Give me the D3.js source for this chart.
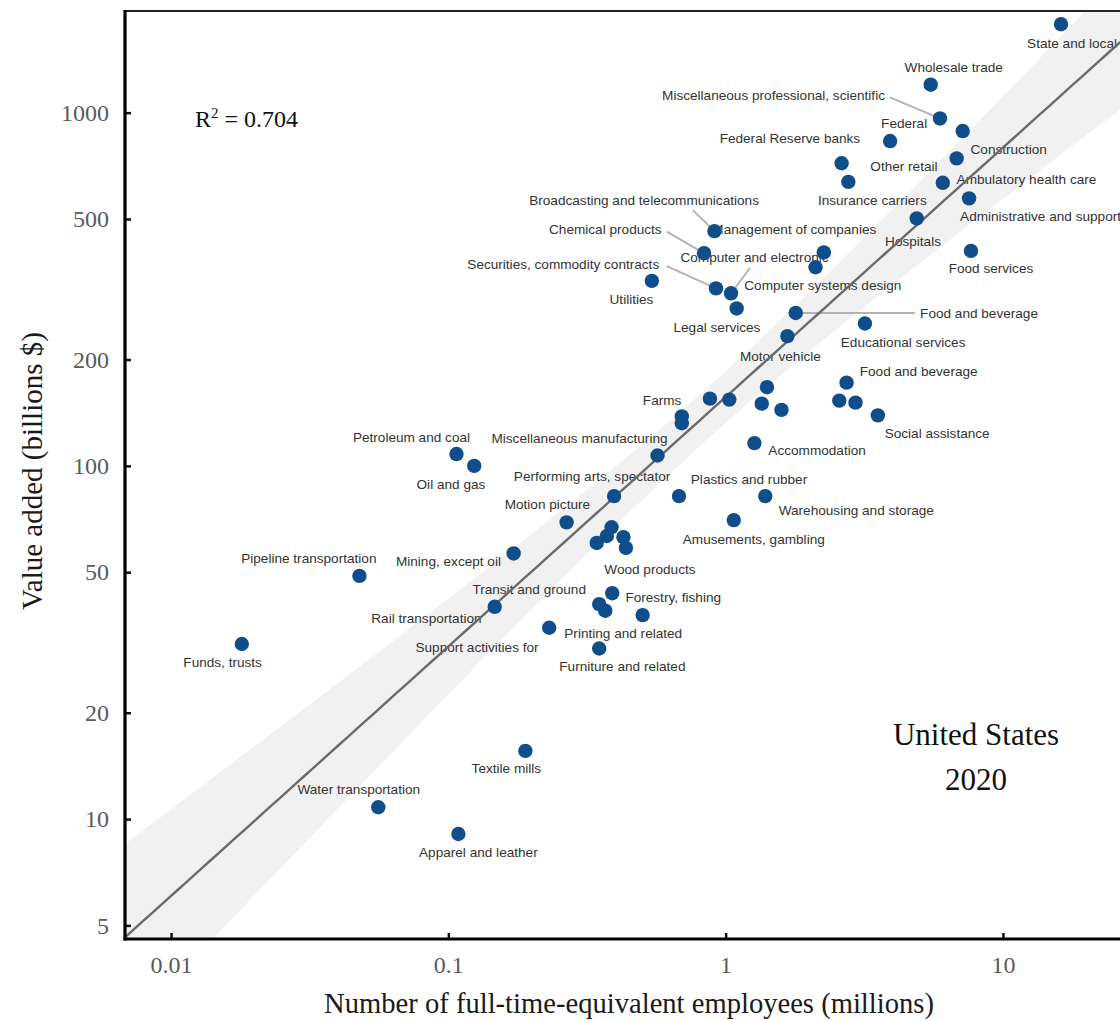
<!DOCTYPE html>
<html>
<head>
<meta charset="utf-8">
<script src="https://cdn.jsdelivr.net/npm/d3@7"></script>
<style>
  html, body { margin: 0; padding: 0; background: #ffffff; }
  svg { display: block; }
</style>
</head>
<body>
<svg id="chart" width="1120" height="1021"></svg>
<script>
// Industries (empty name = point drawn without a label)
const industries = [
  "State and local", "Wholesale trade", "Miscellaneous professional, scientific", "Construction",
  "Federal", "Federal Reserve banks", "Other retail", "Insurance carriers",
  "Ambulatory health care", "Administrative and support", "Hospitals", "Broadcasting and telecommunications",
  "Food services", "Management of companies", "Chemical products", "Computer systems design",
  "Utilities", "Securities, commodity contracts", "Computer and electronic", "Legal services",
  "Food and beverage", "Educational services", "Motor vehicle", "",
  "Food and beverage", "", "", "",
  "", "", "", "Social assistance",
  "Farms", "", "Accommodation", "Miscellaneous manufacturing",
  "Petroleum and coal", "Oil and gas", "Performing arts, spectator", "Plastics and rubber",
  "Warehousing and storage", "Motion picture", "Amusements, gambling", "",
  "", "", "", "Wood products",
  "Mining, except oil", "Pipeline transportation", "Forestry, fishing", "Transit and ground",
  "", "Printing and related", "Rail transportation", "Support activities for",
  "Furniture and related", "Funds, trusts", "Textile mills", "Water transportation",
  "Apparel and leather"
];

// Full-time-equivalent employees (millions)
const employees = [
  16.2, 5.49, 5.93, 7.16,
  3.92, 2.62, 6.81, 2.77,
  6.07, 7.55, 4.89, 0.911,
  7.67, 2.26, 0.836, 2.11,
  0.542, 0.923, 1.046, 1.096,
  1.79, 3.18, 1.67, 1.41,
  2.73, 0.878, 1.031, 1.35,
  1.59, 2.57, 2.94, 3.54,
  0.695, 0.695, 1.27, 0.568,
  0.107, 0.124, 0.396, 0.679,
  1.39, 0.267, 1.07, 0.388,
  0.373, 0.343, 0.428, 0.437,
  0.172, 0.0478, 0.390, 0.350,
  0.368, 0.502, 0.147, 0.231,
  0.350, 0.0180, 0.1896, 0.0559,
  0.1087
];

// Value added (billions $)
const valueAdded = [
  1780, 1200, 963, 887,
  831, 719, 742, 637,
  633, 572, 502, 462,
  406, 402, 400, 365,
  334, 318, 308, 279,
  271, 253, 233, 167,
  172, 155, 154, 150,
  144, 153, 151, 139,
  138, 132, 116, 107,
  108, 100, 82.1, 82.1,
  82.1, 69.2, 70.2, 67.0,
  63.3, 60.5, 62.8, 58.6,
  56.5, 48.8, 43.6, 40.6,
  38.9, 37.8, 39.9, 34.8,
  30.4, 31.3, 15.6, 10.8,
  9.07
];

const xTickValues = [0.01, 0.1, 1, 10];
const xTickLabels = ["0.01", "0.1", "1", "10"];
const yTickValues = [5, 10, 20, 50, 100, 200, 500, 1000];
const yTickLabels = ["5", "10", "20", "50", "100", "200", "500", "1000"];

const rSquared = "0.704";
const panelNote = ["United States", "2020"];
const xTitle = "Number of full-time-equivalent employees (millions)";
const yTitle = "Value added (billions $)";

// Label layout, one entry per industry: [dx, dy, anchor, leaderDx, leaderDy]
// (offsets in px from the point; leader start is also relative to the point)
const labelLayout = [
  [56, 19, "end"], [23, -17, "middle"], [-55, -23, "end", -50, -21], [46, 18.3, "middle"],
  [14, -18, "middle"], [-51.7, -25.3, "middle"], [-52.7, 7.4, "middle"], [24, 18.6, "middle"],
  [83.7, -3.7, "middle"], [-9, 18.4, "start"], [-3.7, 22.4, "middle"], [-70.3, -31, "middle", -21.6, -21],
  [20, 17.6, "middle"], [-29.5, -23.3, "middle"], [-98.7, -24, "middle", -37.3, -21.6], [7.3, 17.7, "middle"],
  [-20.4, 18.3, "middle"], [-152.7, -24.3, "middle", -49.3, -22.3], [23.5, -35.8, "middle", 19, -25.3], [-19.7, 18.4, "middle"],
  [183.3, 0, "middle", 119, 0], [38.2, 18.4, "middle"], [-7, 20, "middle"], null,
  [72.1, -11.6, "middle"], null, null, null,
  null, null, null, [59.3, 17.6, "middle"],
  [-19.7, -16.7, "middle"], null, [62.7, 7.4, "middle"], [-78, -17, "middle"],
  [-45, -17.3, "middle"], [-23.3, 18.3, "middle"], [-22, -20, "middle"], [70, -17, "middle"],
  [91, 14, "middle"], [-19.2, -18, "middle"], [20, 19.3, "middle"], null,
  null, null, null, [24, 21.3, "middle"],
  [-65.2, 7.7, "middle"], [-50.6, -17.4, "middle"], [61, 4, "middle"], [-70, -14.7, "middle"],
  null, [-19.4, 17.7, "middle"], [-68.3, 11, "middle"], [-72.1, 19, "middle"],
  [23.2, 17.4, "middle"], [-19.2, 18.3, "middle"], [-19, 17.6, "middle"], [-19.5, -17.7, "middle"],
  [20, 18.3, "middle"]
];

const points = industries.map((name, i) => ({
  name, emp: employees[i], va: valueAdded[i], layout: labelLayout[i]
}));

// ---- geometry ----
const panel = { left: 125, top: 11, right: 1150, bottom: 939 };

const x = d3.scaleLog().domain([0.006823, 33.92]).range([panel.left, panel.right]);
const y = d3.scaleLog().domain([4.575, 1940]).range([panel.bottom, panel.top]);

const svg = d3.select("#chart");

svg.append("defs").append("clipPath").attr("id", "panel-clip")
  .append("rect")
  .attr("x", panel.left).attr("y", panel.top)
  .attr("width", panel.right - panel.left).attr("height", panel.bottom - panel.top);

const plot = svg.append("g").attr("clip-path", "url(#panel-clip)");

// ---- log-log least-squares fit with 95% confidence band ----
const lx = employees.map(Math.log10);
const ly = valueAdded.map(Math.log10);
const n = lx.length;
const mx = d3.mean(lx), my = d3.mean(ly);
const sxx = d3.sum(lx, v => (v - mx) ** 2);
const sxy = d3.sum(lx.map((v, i) => (v - mx) * (ly[i] - my)));
const slope = sxy / sxx;
const intercept = my - slope * mx;
const sse = d3.sum(lx.map((v, i) => (ly[i] - (intercept + slope * v)) ** 2));
const sResid = Math.sqrt(sse / (n - 2));
const tCrit = 2.0;

const [lxMin, lxMax] = x.domain().map(Math.log10);
const fitRows = d3.range(0, 121).map(k => {
  const v = lxMin + (lxMax - lxMin) * k / 120;
  const fit = intercept + slope * v;
  const half = tCrit * sResid * Math.sqrt(1 / n + (v - mx) ** 2 / sxx);
  return { x: 10 ** v, fit: 10 ** fit, lo: 10 ** (fit - half), hi: 10 ** (fit + half) };
});

plot.append("path")
  .datum(fitRows)
  .attr("fill", "#f1f1f1")
  .attr("d", d3.area().x(d => x(d.x)).y0(d => y(d.lo)).y1(d => y(d.hi)));

// ---- labels and leader segments ----
const labelled = points.filter(p => p.name && p.layout);
const R = 7.2;

const labelG = plot.append("g");
labelled.filter(p => p.layout.length > 3).forEach(p => {
  const px = x(p.emp), py = y(p.va);
  const sx = px + p.layout[3], sy = py + p.layout[4];
  const len = Math.hypot(px - sx, py - sy);
  const ex = px - (px - sx) / len * (R * 0.4), ey = py - (py - sy) / len * (R * 0.4);
  labelG.append("line")
    .attr("x1", sx).attr("y1", sy).attr("x2", ex).attr("y2", ey)
    .attr("stroke", "#b3b3b3").attr("stroke-width", 2);
});

labelG.selectAll("text.lbl")
  .data(labelled)
  .join("text")
  .attr("class", "lbl")
  .attr("x", d => x(d.emp) + d.layout[0])
  .attr("y", d => y(d.va) + d.layout[1])
  .attr("dy", "0.35em")
  .attr("text-anchor", d => d.layout[2])
  .attr("font-family", "'Liberation Sans', Arial, Helvetica, sans-serif")
  .attr("font-size", 13.6)
  .attr("fill", "#333333")
  .text(d => d.name);

// fitted line
plot.append("path")
  .datum(fitRows)
  .attr("fill", "none")
  .attr("stroke", "#6a6a6a")
  .attr("stroke-width", 2.4)
  .attr("d", d3.line().x(d => x(d.x)).y(d => y(d.fit)));

// points
plot.append("g")
  .selectAll("circle")
  .data(points)
  .join("circle")
  .attr("cx", d => x(d.emp))
  .attr("cy", d => y(d.va))
  .attr("r", R)
  .attr("fill", "#104E8B");

// ---- axes ----
const tickFont = "'Liberation Serif', 'Times New Roman', Times, serif";

const yAxis = svg.append("g")
  .attr("transform", `translate(${panel.left},0)`)
  .call(d3.axisLeft(y)
    .tickValues(yTickValues)
    .tickFormat((d, i) => yTickLabels[i])
    .tickSizeInner(-6).tickSizeOuter(0).tickPadding(16));
yAxis.select(".domain").remove();
yAxis.selectAll(".tick line").attr("stroke", "#111").attr("stroke-width", 2.5);
yAxis.selectAll(".tick text")
  .attr("font-family", tickFont).attr("font-size", 24).attr("fill", "#5a5a5a");

const xAxis = svg.append("g")
  .attr("transform", `translate(0,${panel.bottom})`)
  .call(d3.axisBottom(x)
    .tickValues(xTickValues)
    .tickFormat((d, i) => xTickLabels[i])
    .tickSizeInner(-6).tickSizeOuter(0).tickPadding(17));
xAxis.select(".domain").remove();
xAxis.selectAll(".tick line").attr("stroke", "#111").attr("stroke-width", 2.5);
xAxis.selectAll(".tick text")
  .attr("font-family", tickFont).attr("font-size", 24).attr("fill", "#5a5a5a");

// panel frame: heavy left/bottom axes, thin top edge
svg.append("line")
  .attr("x1", panel.left).attr("x2", panel.right)
  .attr("y1", panel.top).attr("y2", panel.top)
  .attr("stroke", "#222").attr("stroke-width", 2);
svg.append("line")
  .attr("x1", panel.left).attr("x2", panel.left)
  .attr("y1", panel.top - 1).attr("y2", panel.bottom + 1.5)
  .attr("stroke", "#000").attr("stroke-width", 3.2);
svg.append("line")
  .attr("x1", panel.left - 1.5).attr("x2", panel.right)
  .attr("y1", panel.bottom).attr("y2", panel.bottom)
  .attr("stroke", "#000").attr("stroke-width", 3.2);

// ---- titles and annotations ----
svg.append("text")
  .attr("x", 629).attr("y", 1013)
  .attr("text-anchor", "middle")
  .attr("font-family", tickFont).attr("font-size", 28.6).attr("fill", "#1a1a1a")
  .text(xTitle);

svg.append("text")
  .attr("transform", "translate(42,471) rotate(-90)")
  .attr("text-anchor", "middle")
  .attr("font-family", tickFont).attr("font-size", 29).attr("fill", "#1a1a1a")
  .text(yTitle);

const r2 = svg.append("text")
  .attr("x", 195).attr("y", 127)
  .attr("font-family", tickFont).attr("font-size", 24).attr("fill", "#111");
r2.append("tspan").text("R");
r2.append("tspan").attr("dy", -9).attr("font-size", 15).text("2");
r2.append("tspan").attr("dy", 9).text(" = " + rSquared);

svg.append("g")
  .selectAll("text")
  .data(panelNote)
  .join("text")
  .attr("x", 976)
  .attr("y", (d, i) => 745 + i * 45)
  .attr("text-anchor", "middle")
  .attr("font-family", tickFont).attr("font-size", 31).attr("fill", "#111")
  .text(d => d);
</script>
</body>
</html>
